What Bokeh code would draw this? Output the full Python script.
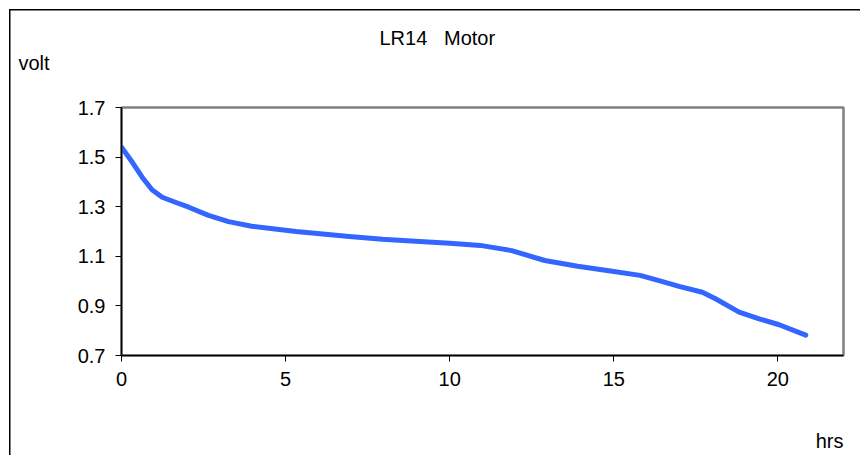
from bokeh.plotting import figure
from bokeh.models import Title, FixedTicker, Range1d, CustomJSTickFormatter
from bokeh.embed import file_html
from bokeh.resources import INLINE

hrs = [0, 0.33, 0.63, 0.93, 1.24, 1.64, 2.05, 2.65, 3.26, 3.97, 5.32, 6.94, 7.95, 8.96,
       10.0, 10.93, 11.89, 12.9, 13.9, 14.9, 15.8, 16.38, 16.99, 17.7, 18.1, 18.82,
       19.43, 20.04, 20.85]
volt = [1.54, 1.479, 1.419, 1.368, 1.338, 1.318, 1.298, 1.265, 1.240, 1.221, 1.200, 1.180,
        1.169, 1.161, 1.153, 1.144, 1.123, 1.083, 1.060, 1.041, 1.023, 1.002, 0.979, 0.955,
        0.929, 0.875, 0.848, 0.824, 0.782]
x_ticks = [0, 5, 10, 15, 20]
y_ticks = [0.7, 0.9, 1.1, 1.3, 1.5, 1.7]
title_text = "LR14 \u00a0 Motor"
y_label = "volt"
x_label = "hrs"

FONT = "Liberation Sans"
FS = "20px"
W, H = 860, 455

p = figure(width=W, height=H, output_backend="svg", toolbar_location=None,
           x_range=Range1d(0, 22), y_range=Range1d(0.7, 1.7))
p.min_border_left = 121
p.min_border_right = 17
p.min_border_top = 107
p.min_border_bottom = 100
p.background_fill_color = "white"
p.border_fill_color = None
p.styles = {"box-shadow": "inset 9px 9px 0 0 white, inset 10.5px 10.5px 0 0 black",
            "background-color": "white"}
p.xgrid.visible = False
p.ygrid.visible = False
p.outline_line_color = "#808080"
p.outline_line_width = 2.5


def mk_title(text, align, offset, standoff):
    return Title(text=text, align=align, offset=offset, standoff=standoff,
                 text_font=FONT, text_font_size=FS, text_font_style="normal",
                 text_color="black")


p.title.text = title_text
p.title.align = "left"
p.title.offset = 258
p.title.standoff = 0
p.title.text_font = FONT
p.title.text_font_size = FS
p.title.text_font_style = "normal"
p.title.text_color = "black"

# spacing panels (blank) to position the labels like the original
p.add_layout(mk_title(" ", "left", 0, 9), "above")
p.add_layout(mk_title(y_label, "left", -103, 2), "above")
p.add_layout(mk_title(" ", "left", 0, 15), "below")
p.add_layout(mk_title(x_label, "right", 0, 0), "below")

for ax in (p.xaxis[0], p.yaxis[0]):
    ax.axis_line_color = "black"
    ax.axis_line_width = 1.5
    ax.major_tick_line_color = "black"
    ax.major_tick_line_width = 1
    ax.major_tick_in = 0
    ax.major_tick_out = 6
    ax.minor_tick_line_color = None
    ax.major_label_text_font = FONT
    ax.major_label_text_font_size = FS
    ax.major_label_text_color = "black"
    ax.major_label_standoff = 10

p.xaxis[0].ticker = FixedTicker(ticks=x_ticks)
p.yaxis[0].ticker = FixedTicker(ticks=y_ticks)
p.yaxis[0].formatter = CustomJSTickFormatter(code="return tick.toFixed(1);")

p.line(hrs, volt, line_color="#3366ff", line_width=5, line_cap="round", line_join="round")

open("out.html", "w").write(file_html(p, INLINE))
